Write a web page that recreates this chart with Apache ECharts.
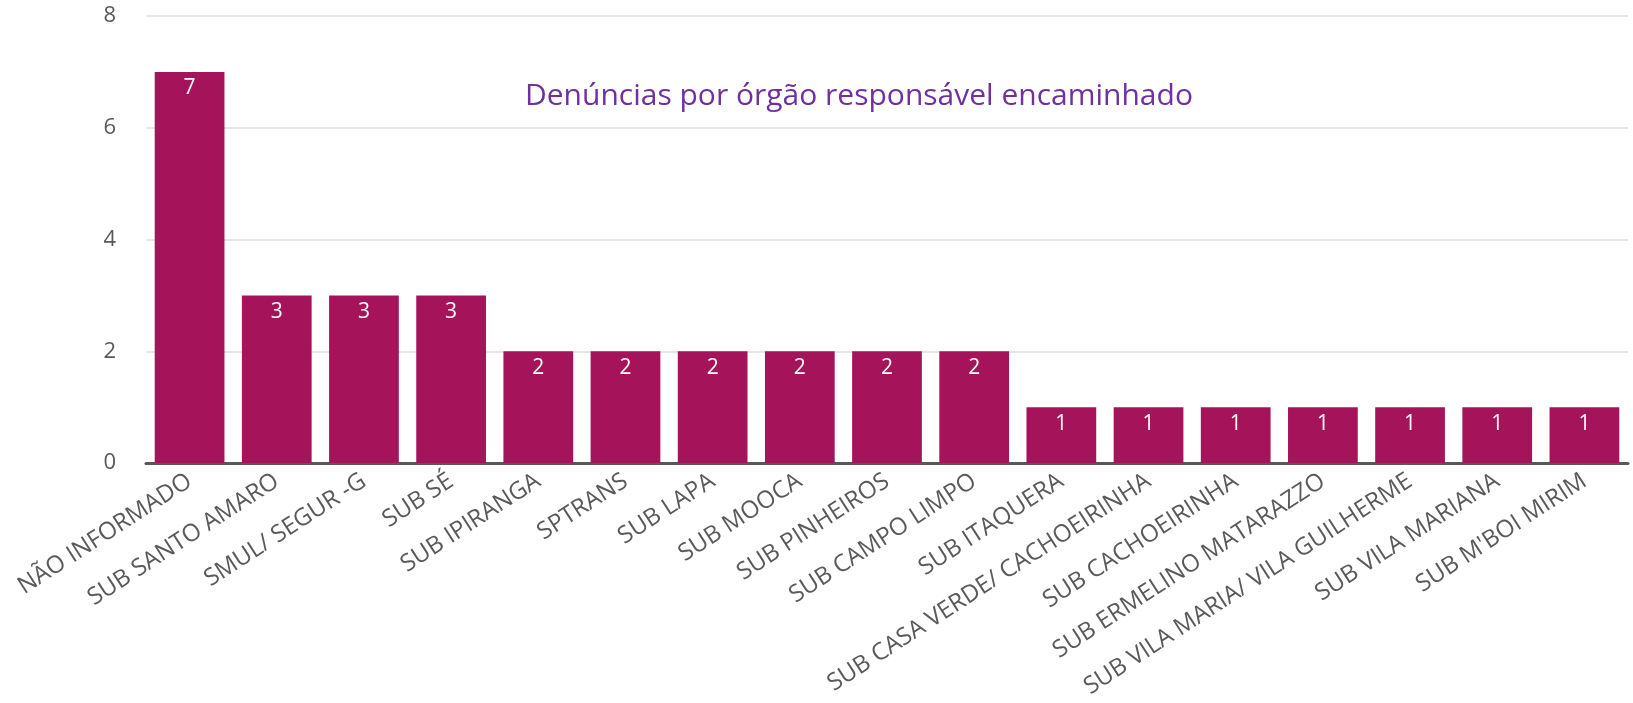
<!DOCTYPE html>
<html lang="pt">
<head>
    <meta charset="UTF-8">
    <title>Denúncias por órgão responsável encaminhado</title>
    <script src="https://cdn.jsdelivr.net/npm/echarts@6/dist/echarts.min.js"></script>
    <style>
        html, body { margin: 0; padding: 0; background: #fff; }
        #chart { width: 1633px; height: 703px; }
    </style>
</head>
<body>
<div id="chart"></div>
<script type="text/javascript">
    // dados
    var orgaos = ['NÃO INFORMADO', 'SUB SANTO AMARO', 'SMUL/ SEGUR -G', 'SUB SÉ', 'SUB IPIRANGA', 'SPTRANS',
        'SUB LAPA', 'SUB MOOCA', 'SUB PINHEIROS', 'SUB CAMPO LIMPO', 'SUB ITAQUERA',
        'SUB CASA VERDE/ CACHOEIRINHA', 'SUB CACHOEIRINHA', 'SUB ERMELINO MATARAZZO',
        'SUB VILA MARIA/ VILA GUILHERME', 'SUB VILA MARIANA', "SUB M'BOI MIRIM"];
    var denuncias = [7, 3, 3, 3, 2, 2, 2, 2, 2, 2, 1, 1, 1, 1, 1, 1, 1];
    var tituloTexto = 'Denúncias por órgão responsável encaminhado';

    var myChart = echarts.init(document.getElementById('chart'));
    var option = {
        animation: false,
        textStyle: { fontFamily: '"Open Sans", sans-serif' },
        title: {
            text: tituloTexto,
            left: 520,
            top: 76,
            textStyle: {
                color: '#7030A0',
                fontSize: 30,
                fontWeight: 'normal',
                fontFamily: '"Open Sans", sans-serif'
            }
        },
        grid: {
            left: 146,
            right: 5,
            top: 16,
            bottom: 240
        },
        xAxis: {
            type: 'category',
            data: orgaos,
            axisLine: { lineStyle: { color: '#595959', width: 3 } },
            axisTick: { show: false },
            axisLabel: {
                interval: 0,
                rotate: 33,
                color: '#595959',
                fontSize: 24,
                margin: 16
            }
        },
        yAxis: {
            type: 'value',
            min: 0,
            max: 8,
            interval: 2,
            axisLine: { show: false },
            axisTick: { show: false },
            axisLabel: { color: '#595959', fontSize: 22, margin: 30 },
            splitLine: { lineStyle: { color: '#E6E6E6', width: 2 } }
        },
        series: [{
            type: 'bar',
            data: denuncias,
            barCategoryGap: '20%',
            itemStyle: { color: '#A5145A' },
            label: {
                show: true,
                position: 'insideTop',
                distance: 6,
                color: '#fff',
                fontSize: 21
            }
        }]
    };
    myChart.setOption(option);
</script>
</body>
</html>
